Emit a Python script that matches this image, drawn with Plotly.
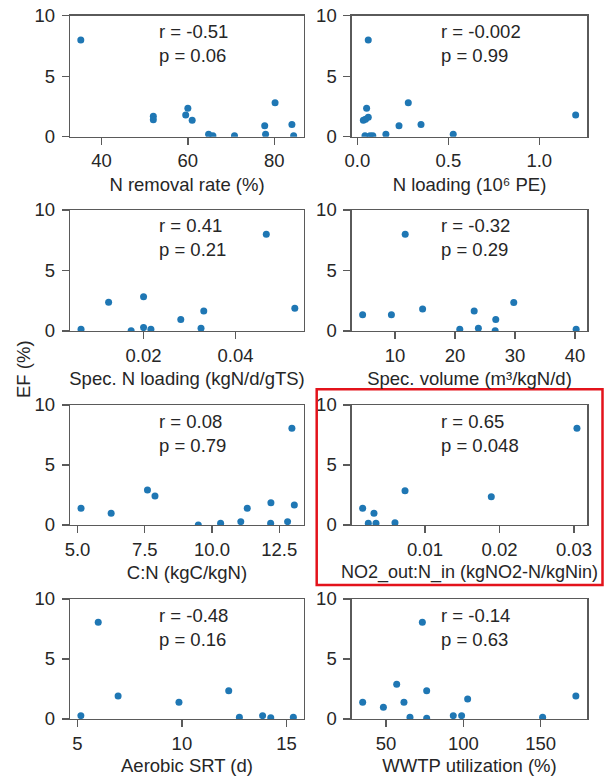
import plotly.graph_objects as go

# The page body margin is removed (see write_html below), so the figure fills
# the 604 x 776 window exactly.
PAGE_MARGIN = 0
W, H = 604 - PAGE_MARGIN, 776 - PAGE_MARGIN

# ---------------- data ----------------
y_title = "EF (%)"

x_titles = [
    "N removal rate (%)",
    "N loading (10⁶ PE)",
    "Spec. N loading (kgN/d/gTS)",
    "Spec. volume (m³/kgN/d)",
    "C:N (kgC/kgN)",
    "NO2_out:N_in (kgNO2-N/kgNin)",
    "Aerobic SRT (d)",
    "WWTP utilization (%)",
]
r_labels = ["-0.51", "-0.002", "0.41", "-0.32", "0.08", "0.65", "-0.48", "-0.14"]
p_labels = ["0.06", "0.99", "0.21", "0.29", "0.79", "0.048", "0.16", "0.63"]

n_removal = [35.2, 52.0, 52.0, 60.0, 59.5, 61.0, 64.8, 65.8, 70.8, 77.8, 78.0, 80.2, 84.1, 84.5]
ef_n_removal = [8.0, 1.7, 1.4, 2.35, 1.8, 1.35, 0.2, 0.08, 0.08, 0.9, 0.2, 2.8, 1.0, 0.08]

n_loading = [0.060, 0.051, 0.060, 0.033, 0.045, 0.042, 0.070, 0.085, 0.157, 0.229, 0.280, 0.350, 0.527, 1.200]
ef_n_loading = [8.0, 2.35, 1.6, 1.35, 1.45, 0.08, 0.08, 0.08, 0.2, 0.9, 2.8, 1.0, 0.2, 1.8]

spec_n_loading = [0.0064, 0.0124, 0.0173, 0.0200, 0.0200, 0.0216, 0.0281, 0.0325, 0.0331, 0.0467, 0.0529]
ef_spec_n_loading = [0.14, 2.37, 0.03, 2.84, 0.28, 0.14, 0.96, 0.22, 1.65, 8.0, 1.87]

spec_volume = [4.6, 9.4, 11.7, 14.6, 20.8, 23.2, 23.9, 26.7, 26.8, 29.8, 40.2]
ef_spec_volume = [1.35, 1.35, 8.0, 1.82, 0.14, 1.65, 0.22, 0.03, 0.96, 2.35, 0.14]

c_n = [5.13, 6.25, 7.6, 7.88, 9.49, 10.32, 11.07, 11.31, 12.19, 12.18, 12.81, 12.97, 13.06]
ef_c_n = [1.39, 0.97, 2.92, 2.42, 0.0, 0.14, 0.28, 1.39, 1.86, 0.14, 0.28, 8.06, 1.67]

no2_ratio = [0.00163, 0.00239, 0.00315, 0.00342, 0.00597, 0.00732, 0.0189, 0.0304]
ef_no2_ratio = [1.39, 0.14, 0.97, 0.14, 0.19, 2.86, 2.36, 8.06]

aerobic_srt = [5.17, 6.0, 6.95, 9.86, 12.24, 12.75, 13.86, 14.25, 15.33]
ef_aerobic_srt = [0.28, 8.06, 1.92, 1.39, 2.36, 0.14, 0.28, 0.11, 0.14]

utilization = [34.9, 48.3, 56.9, 61.6, 65.5, 73.5, 76.3, 76.3, 93.5, 98.9, 102.8, 151.3, 172.8]
ef_utilization = [1.39, 0.97, 2.89, 1.39, 0.14, 8.06, 2.36, 0.06, 0.28, 0.28, 1.67, 0.14, 1.92]

x_data = [n_removal, n_loading, spec_n_loading, spec_volume, c_n, no2_ratio, aerobic_srt, utilization]
y_data = [ef_n_removal, ef_n_loading, ef_spec_n_loading, ef_spec_volume, ef_c_n, ef_no2_ratio, ef_aerobic_srt, ef_utilization]

x_tickvals = [[40, 60, 80], [0.0, 0.5, 1.0], [0.02, 0.04], [10, 20, 30, 40],
              [5.0, 7.5, 10.0, 12.5], [0.01, 0.02, 0.03], [5, 10, 15], [50, 100, 150]]
x_ticktext = [["40", "60", "80"], ["0.0", "0.5", "1.0"], ["0.02", "0.04"], ["10", "20", "30", "40"],
              ["5.0", "7.5", "10.0", "12.5"], ["0.01", "0.02", "0.03"], ["5", "10", "15"], ["50", "100", "150"]]
x_ranges = [[32.7, 86.9], [-0.031, 1.264], [0.004, 0.0549], [2.78, 42.06],
            [4.72, 13.42], [0.00016, 0.03179], [4.65, 15.84], [27.8, 180.2]]
y_tickvals = [0, 5, 10]
y_range = [0, 10]

# ---------------- layout geometry (window pixels) ----------------
col_px = [(70, 304), (351.7, 587.3)]
row_px = [(15.7, 136.7), (210, 331), (405, 525), (599, 719)]


def px_x(p):
    return (p - PAGE_MARGIN) / W


def px_y(p):
    return 1 - (p - PAGE_MARGIN) / H


FONT = "Liberation Sans, Arial, Helvetica, sans-serif"
FS = 18.5
AX_COLOR = "#5a5a5a"
TXT = "#262626"
DOT = "#1f77b4"

fig = go.Figure()
layout = dict(
    width=W, height=H,
    margin=dict(l=0, r=0, t=0, b=0, autoexpand=False),
    paper_bgcolor="white", plot_bgcolor="white",
    showlegend=False, hovermode=False,
    font=dict(family=FONT, size=FS, color=TXT),
)
annotations = []

for i in range(8):
    r, c = divmod(i, 2)
    k = "" if i == 0 else str(i + 1)
    x0, x1 = col_px[c]
    yt, yb = row_px[r]
    fig.add_trace(go.Scatter(
        x=x_data[i], y=y_data[i], mode="markers",
        marker=dict(size=7, color=DOT, line=dict(width=0)),
        xaxis="x" + k, yaxis="y" + k, hoverinfo="skip",
    ))
    common = dict(showline=True, mirror=True, linecolor=AX_COLOR, linewidth=1.3,
                  ticks="outside", ticklen=7, tickwidth=1.3, tickcolor=AX_COLOR,
                  showgrid=False, zeroline=False, automargin=False,
                  ticklabeloverflow="allow",
                  tickfont=dict(family=FONT, size=FS, color=TXT))
    title_fs = 18 if i == 5 else FS
    layout["xaxis" + k] = dict(
        common, domain=[px_x(x0), px_x(x1)], anchor="y" + k,
        range=x_ranges[i], tickmode="array", tickvals=x_tickvals[i], ticktext=x_ticktext[i],
        title=dict(text=x_titles[i], standoff=7, font=dict(family=FONT, size=title_fs, color=TXT)),
    )
    layout["yaxis" + k] = dict(
        common, domain=[px_y(yb), px_y(yt)], anchor="x" + k,
        range=y_range, tickmode="array", tickvals=y_tickvals,
        ticktext=[str(v) for v in y_tickvals], ticklabelstandoff=3,
    )
    h = yb - yt
    for txt, off in (("r = " + r_labels[i], 16), ("p = " + p_labels[i], 40)):
        annotations.append(dict(
            xref="x" + k + " domain", yref="y" + k + " domain",
            x=0.37, y=1 - off / h, xanchor="left", yanchor="middle",
            text=txt, showarrow=False, font=dict(family=FONT, size=FS, color=TXT),
        ))

annotations.append(dict(
    xref="paper", yref="paper", x=px_x(23), y=px_y(369),
    xanchor="center", yanchor="middle", textangle=-90,
    text=y_title, showarrow=False, font=dict(family=FONT, size=FS, color=TXT),
))
layout["annotations"] = annotations
layout["shapes"] = [dict(
    type="rect", xref="paper", yref="paper",
    x0=px_x(316.7), x1=px_x(602.5), y0=px_y(585), y1=px_y(389.3),
    line=dict(color="#e3131b", width=2.5), fillcolor="rgba(0,0,0,0)",
)]
fig.update_layout(**layout)
fig.write_html(
    "out.html",
    config={"displayModeBar": False, "staticPlot": True},
    post_script="document.body.style.margin='0';document.body.style.overflow='hidden';",
)
